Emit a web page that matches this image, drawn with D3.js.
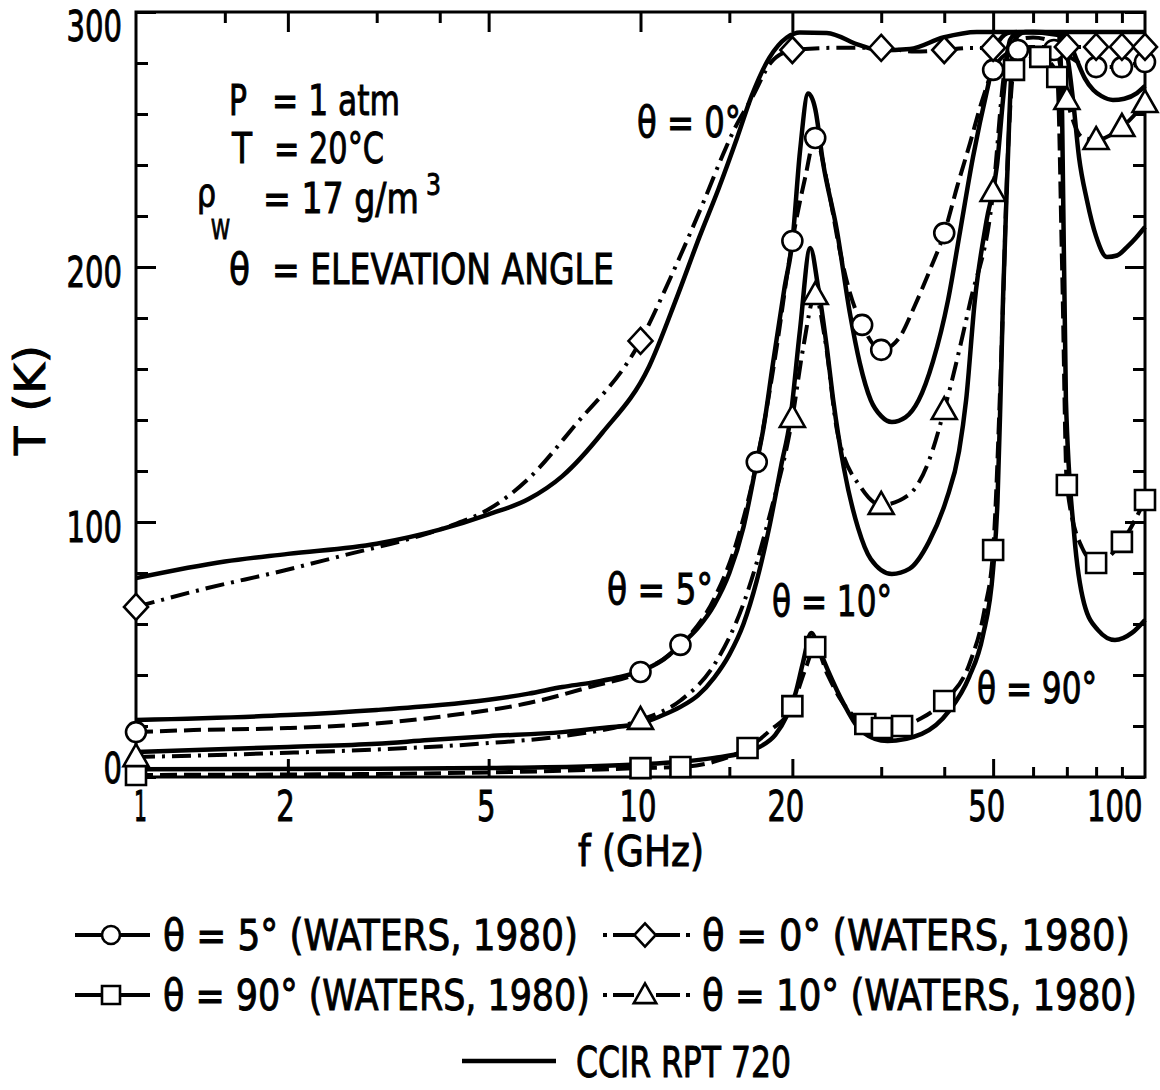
<!DOCTYPE html>
<html>
<head>
<meta charset="utf-8">
<script src="https://cdn.jsdelivr.net/npm/d3@7"></script>
<style>
  html, body { margin: 0; padding: 0; background: #fff; }
  svg { display: block; }
  text { font-family: "DejaVu Sans Condensed", "Liberation Sans Narrow", "DejaVu Sans", sans-serif;
         fill: #000; stroke: #000; stroke-width: 0.9px; }
</style>
</head>
<body>
<svg id="chart" width="1160" height="1090"></svg>
<script>
// ---- axis ticks and labels ----
const freqLabels = [1, 2, 5, 10, 20, 50, 100];
const freqMajorTicks = [2, 5, 10, 20, 50];
const freqMinorBottom = [15, 30, 40, 60, 70, 80, 90];
const freqMinorTop = [1.5, 3, 4, 15, 30, 40, 60, 70, 80, 90];
const tempLabels = [0, 100, 200, 300];
const tempMinorTicks = [20, 40, 60, 80, 120, 140, 160, 180, 220, 240, 260, 280];

// ---- CCIR RPT 720 curves: [frequency GHz, brightness temperature K] ----
const ccir0 = [[1,78],[1.5,84.5],[2,87.5],[3,91.5],[4,97],[5,103],[6,109],[7,118],[8.4,135],[10.4,161],
  [11.8,188],[13.1,212],[14.3,231],[15.5,250],[16.6,267],[18,282],[19.5,290],[20.7,292],[23.4,291.8],
  [27.2,287],[29.8,285],[34.2,285.5],[39.8,290],[46.4,292.2],[60,292.2],[80,292.2],[100,292.2]];
const ccir5 = [[1,22.4],[2,24.3],[3,26.3],[4,28.2],[5,30.3],[6,32.7],[7,35.3],[8,37],[9,39],[10,41.5],
  [11,45.5],[12,51.8],[13,58.5],[14,67.5],[15,80],[16,98],[17,123.5],[17.5,136],[18.3,162],[19.3,192],
  [20,210],[20.7,245],[21.5,268],[22.2,262],[23,241],[24.5,214.5],[26,182],[27.2,162.4],[28.6,147.8],
  [30,141.5],[31.5,139.2],[33.5,141],[35.6,147.8],[38,163],[40.7,187],[43,214],[45.6,243],[48.8,270.6],
  [51.5,289],[54,292],[60,292.2],[68,292],[70.5,289],[73.3,281],[76,274],[79,269.4],[82,267],
  [86.4,265.5],[91,266],[96.4,268.2],[100,271]];
const ccir10 = [[1,9.8],[2,11.8],[3,13],[3.8,14.5],[5,16],[7,17.6],[8.5,19.3],[10,21],[11,24],[12,27.5],
  [13,32],[14,39],[15,48],[16,60],[17,77],[18,98],[19,122],[19.8,140],[20.7,175],[21.7,207.5],[22.5,192],
  [23.4,168.6],[24.1,147.8],[25.3,121.2],[27,97.6],[28.6,85.5],[31.5,79.6],[34.1,81.6],[37.3,92.2],
  [40.3,108.2],[42.8,127.8],[44.2,147.8],[46,187],[48.5,218],[50.9,240],[52.3,265.5],[54,289],[56,292],
  [60,292.2],[67,292],[69.5,287],[72,265.5],[74,243],[76.7,226.3],[80,212],[84.1,203.9],[88,204.5],
  [92.1,207.8],[96,211.5],[100,215.7]];
const ccir90 = [[1,3],[3,3.2],[5,3.5],[8,4.2],[10,5],[12,6],[14,7.5],[16,9.5],[17.3,12],[18.5,16.5],
  [19.5,24],[20.3,33],[21,45],[21.8,56.5],[22.6,50],[23.5,42],[25.3,28.6],[27.4,18],[30.9,14.1],
  [36.1,16.9],[40.9,25.9],[44.8,39.2],[47.7,55.3],[50,81.6],[51,108],[51.7,148],[52.3,187],[53.4,239],
  [54.4,278],[55.5,290],[58,292.2],[67.5,291],[68.5,260],[69.7,147.8],[72.4,94.9],[75.7,68.2],
  [80.7,57.6],[87.2,53.7],[94.2,56.5],[100,61.6]];

// ---- Waters (1980) curves and computed points ----
const waters0Line = [[1,66.7],[1.38,74],[1.92,80.5],[2.65,87.5],[3.5,93.5],[4.2,98.5],[5,105],[6,117],
  [7.35,137],[10,171],[11.45,195.5],[13.3,225],[14.6,244.5],[15.3,253.5],[16.7,267],[18.1,280],
  [19.5,284.5],[20,285.1],[25,286],[30,285.9],[35,284.5],[40,285.1],[45,285.9],[50,285.9],[60,286.3],
  [70,286.3],[80,286.3],[90,286.3],[100,286.3]];
const waters0Points = [[1,66.7],[10,171],[20,285.1],[30,285.9],[40,285.1],[50,285.9],[70,286.3],
  [80,286.3],[90,286.3],[100,286.3]];

const waters5Line = [[1,17.6],[1.3,18.4],[2,19.2],[2.9,20.8],[4.1,23.9],[6,29],[8,35.5],[10,41.2],
  [12,51.8],[14,70],[15.5,92],[17,123.5],[18.5,165],[20,210.2],[21.2,235],[22.2,250.6],[23.5,232],
  [24.8,207],[26,190],[27.5,177.3],[30,167.5],[32.5,172],[35,185],[37.5,199],[40,213.3],[42.5,232],
  [45,248.6],[47.5,265],[50,277.3],[53,283.5],[56,285.1],[61,285.5],[66,285.1],[70,283],[75,279.5],
  [80,278.4],[90,278.4],[100,280.4]];
const waters5Points = [[1,17.6],[10,41.2],[12,51.8],[17,123.5],[20,210.2],[22.2,250.6],[27.5,177.3],
  [30,167.5],[40,213.3],[50,277.3],[56,285.1],[66,285.1],[80,278.4],[90,278.4],[100,280.4]];

const waters10Line = [[1,7.8],[2,9.5],[3,10.8],[5,13.3],[7,16],[10,22.4],[12,30],[14,44],[16,68],
  [18,102],[20,140.8],[21,168],[22.2,189],[23.2,172],[24.6,134.5],[27.4,113.3],[30,106.7],[34,110.6],
  [37.3,124],[40,143.9],[45,186],[50,229.4],[52.5,275],[54,288],[60,290],[66,288],[70,265.5],
  [75,251],[80,249.8],[90,254.9],[100,264.3]];
const waters10Points = [[1,7.8],[10,22.4],[20,140.8],[22.2,189],[30,106.7],[40,143.9],[50,229.4],
  [70,265.5],[80,249.8],[90,254.9],[100,264.3]];

const waters90Line = [[1,0.8],[3,1.2],[5,1.8],[8,2.8],[10,3.5],[12,3.9],[14,6],[16.3,11.4],[18,18],
  [20,27.8],[21.2,42],[22.2,51],[23.5,40],[25,30],[27.9,20.8],[30.1,19.2],[33,20],[36,23],[40,29.8],
  [45,45],[48,65],[50,89],[52,170],[53.5,245],[55,277.3],[58,281],[62,282.4],[65,280],[67,274.5],
  [68.5,200],[70,114.5],[75,90],[80,83.9],[90,92.2],[100,108.6]];
const waters90Points = [[1,0.8],[10,3.5],[12,3.9],[16.3,11.4],[20,27.8],[22.2,51],[27.9,20.8],
  [30.1,19.2],[33,20],[40,29.8],[50,89],[55,277.3],[62,282.4],[67,274.5],[70,114.5],[80,83.9],
  [90,92.2],[100,108.6]];

// ---- text ----
const conditionSymbols = ["P", "T", "ρ", "θ"];
const conditionTexts = ["= 1 atm", "= 20°C", "= 17 g/m", "= ELEVATION ANGLE"];
const curveLabels = ["θ = 0°", "θ = 5°", "θ = 10°", "θ = 90°"];
const legendLabels = ["θ = 5° (WATERS, 1980)", "θ = 0° (WATERS, 1980)",
                      "θ = 90° (WATERS, 1980)", "θ = 10° (WATERS, 1980)", "CCIR RPT 720"];

// ================= drawing =================
const svg = d3.select("#chart");
const plotL = 136, plotR = 1145, plotT = 12, plotB = 777;
const x = d3.scaleLog().domain([1, 100]).range([plotL, plotR]);
const y = d3.scaleLinear().domain([0, 300]).range([plotB, plotT]);

const FONT = 42;
// squeeze a text horizontally to a given width (condensed lettering)
function fitText(sel, width) {
  const node = sel.node();
  const w0 = node.getComputedTextLength();
  const k = w0 > 0 ? width / w0 : 1;
  const tx = +sel.attr("x") || 0, ty = +sel.attr("y") || 0;
  const prev = sel.attr("transform") || "";
  sel.attr("x", 0).attr("y", 0)
    .attr("transform", `${prev} translate(${tx},${ty}) scale(${k},1)`.trim());
  return sel;
}

// ---- tick marks (inward on all four sides) ----
function ticks(gen, values, size, transform) {
  const g = svg.append("g").attr("transform", transform)
    .call(gen.tickValues(values).tickSize(size).tickFormat(""));
  g.select(".domain").remove();
  g.selectAll(".tick line").attr("stroke", "#000").attr("stroke-width", 3);
  g.selectAll(".tick text").remove();
}
ticks(d3.axisBottom(x), freqMajorTicks, -18, `translate(0,${plotB})`);
ticks(d3.axisBottom(x), freqMinorBottom, -10, `translate(0,${plotB})`);
ticks(d3.axisTop(x), freqMajorTicks, -20, `translate(0,${plotT})`);
ticks(d3.axisTop(x), freqMinorTop, -11, `translate(0,${plotT})`);
ticks(d3.axisLeft(y), tempLabels, -20, `translate(${plotL},0)`);
ticks(d3.axisLeft(y), tempMinorTicks, -12, `translate(${plotL},0)`);
ticks(d3.axisRight(y), tempLabels, -20, `translate(${plotR},0)`);
ticks(d3.axisRight(y), tempMinorTicks, -12, `translate(${plotR},0)`);

// ---- tick labels ----
const digitW = 18.5;
const gx = svg.append("g").attr("transform", `translate(0,${plotB})`)
  .call(d3.axisBottom(x).tickValues(freqLabels).tickSize(0).tickFormat(d3.format("d")));
gx.select(".domain").remove();
gx.attr("font-family", null).attr("font-size", null);
gx.selectAll(".tick text")
  .attr("y", 44).attr("dy", null).attr("fill", null)
  .attr("font-size", FONT)
  .each(function (d) {
    const t = d3.select(this);
    const s = String(d);
    const w = s === "1" ? 13 : s.length * digitW;
    if (d === 100) t.attr("text-anchor", "end").attr("x", -3);
    else t.attr("x", d === 1 ? 4 : d >= 20 ? -7 : -3);
    fitText(t, w);
  });

const gy = svg.append("g").attr("transform", `translate(${plotL},0)`)
  .call(d3.axisLeft(y).tickValues(tempLabels).tickSize(0).tickFormat(d3.format("d")));
gy.select(".domain").remove();
gy.attr("font-family", null).attr("font-size", null);
gy.selectAll(".tick text")
  .attr("x", -14).attr("dy", null).attr("fill", null)
  .attr("font-size", FONT)
  .attr("y", d => Math.min(Math.max(y(d) + 4, 25), 767) - y(d) + 15)
  .each(function (d) { fitText(d3.select(this), String(d).length * digitW); });

// ---- plot frame ----
svg.append("rect").attr("x", plotL).attr("y", plotT)
  .attr("width", plotR - plotL).attr("height", plotB - plotT)
  .attr("fill", "none").attr("stroke", "#000").attr("stroke-width", 3);

// ---- curves ----
const line = d3.line().x(d => x(d[0])).y(d => y(d[1])).curve(d3.curveMonotoneX);
const DASH = "17,7";
const DASHDOT = "19,7,3,7";

const solidCurves = [ccir0, ccir5, ccir10, ccir90];
svg.append("g").selectAll("path").data(solidCurves).join("path")
  .attr("d", line).attr("fill", "none").attr("stroke", "#000")
  .attr("stroke-width", 4.5).attr("stroke-linejoin", "round");

const watersCurves = [
  { line: waters5Line, pts: waters5Points, dash: DASH, mark: "circle" },
  { line: waters0Line, pts: waters0Points, dash: DASHDOT, mark: "diamond" },
  { line: waters90Line, pts: waters90Points, dash: DASH, mark: "square" },
  { line: waters10Line, pts: waters10Points, dash: DASHDOT, mark: "triangle" }
];
svg.append("g").selectAll("path").data(watersCurves).join("path")
  .attr("d", d => line(d.line)).attr("fill", "none").attr("stroke", "#000")
  .attr("stroke-width", 4).attr("stroke-dasharray", d => d.dash);

// marker shapes centred on 0,0
function markerPath(kind, s) {
  if (kind === "circle") { const p = d3.path(); p.arc(0, 0, 10 * s, 0, 2 * Math.PI); return p.toString(); }
  if (kind === "square") return `M${-10*s},${-10*s}H${10*s}V${10*s}H${-10*s}Z`;
  if (kind === "diamond") return `M0,${-13*s}L${12*s},0L0,${13*s}L${-12*s},0Z`;
  return `M0,${-13*s}L${12.5*s},${9*s}L${-12.5*s},${9*s}Z`;
}
function drawMarker(g, kind, cx, cy, s = 1) {
  g.append("path").attr("d", markerPath(kind, s))
    .attr("transform", `translate(${cx},${cy})`)
    .attr("fill", "#fff").attr("stroke", "#000").attr("stroke-width", 2.6);
}
const gm = svg.append("g");
watersCurves.forEach(c => c.pts.forEach(p => drawMarker(gm, c.mark, x(p[0]), y(p[1]))));

// ---- condition block ----
const cond = svg.append("g");
const condRows = [
  { sx: 229, base: 115, ex: 272, tb: 115, w: 128, sw: 18, fs: FONT },
  { sx: 232, base: 163, ex: 274, tb: 163, w: 110, sw: 20, fs: FONT },
  { sx: 197, base: 206, ex: 263, tb: 213, w: 156, sw: 19, fs: 38 },
  { sx: 229, base: 284, ex: 272, tb: 284, w: 342, sw: 21, fs: FONT }
];
condRows.forEach((r, i) => {
  fitText(cond.append("text").attr("x", r.sx).attr("y", r.base).attr("font-size", r.fs)
    .text(conditionSymbols[i]), r.sw);
  fitText(cond.append("text").attr("x", r.ex).attr("y", r.tb).attr("font-size", FONT)
    .text(conditionTexts[i]), r.w);
});
fitText(cond.append("text").attr("x", 211).attr("y", 239).attr("font-size", 27).text("W"), 19);
fitText(cond.append("text").attr("x", 426).attr("y", 195).attr("font-size", 31).text("3"), 15);

// ---- curve labels ----
const labelPos = [
  { x: 637, base: 137, w: 104 },
  { x: 607, base: 604, w: 106 },
  { x: 772, base: 616, w: 120 },
  { x: 977, base: 703, w: 120 }
];
const gl = svg.append("g");
labelPos.forEach((p, i) => fitText(gl.append("text").attr("x", p.x).attr("y", p.base)
  .attr("font-size", FONT).text(curveLabels[i]), p.w));

// ---- axis titles ----
fitText(svg.append("text").attr("x", 578).attr("y", 866).attr("font-size", FONT).text("f (GHz)"), 126);
fitText(svg.append("text").attr("transform", "translate(45,455) rotate(-90)")
  .attr("font-size", FONT).text("T (K)"), 110);

// ---- legend ----
const legend = svg.append("g");
const legendRows = [
  { x0: 75, x1: 150, cx: 111, base: 950, tx: 163, tw: 415, c: 0 },
  { x0: 603, x1: 690, cx: 645, base: 950, tx: 702, tw: 428, c: 1 },
  { x0: 75, x1: 150, cx: 111, base: 1010, tx: 163, tw: 427, c: 2 },
  { x0: 603, x1: 690, cx: 645, base: 1010, tx: 702, tw: 435, c: 3 }
];
legendRows.forEach((r, i) => {
  const c = watersCurves[r.c];
  const cy = r.base - 15;
  const seg = (a, b) => legend.append("line").attr("x1", a).attr("x2", b).attr("y1", cy).attr("y2", cy)
    .attr("stroke", "#000").attr("stroke-width", 4);
  if (c.dash === DASH) {
    seg(r.x0, r.cx - 10); seg(r.cx + 10, r.x1);
  } else {
    seg(r.x0, r.x0 + 4); seg(r.x0 + 10, r.cx - 11);
    seg(r.cx + 11, r.x1 - 10); seg(r.x1 - 4, r.x1);
  }
  drawMarker(legend, c.mark, r.cx, cy, 0.9);
  fitText(legend.append("text").attr("x", r.tx).attr("y", r.base).attr("font-size", FONT)
    .text(legendLabels[i]), r.tw);
});
legend.append("line").attr("x1", 462).attr("x2", 556).attr("y1", 1061).attr("y2", 1061)
  .attr("stroke", "#000").attr("stroke-width", 4.5);
fitText(legend.append("text").attr("x", 576).attr("y", 1077).attr("font-size", FONT)
  .text(legendLabels[4]), 215);
</script>
</body>
</html>
